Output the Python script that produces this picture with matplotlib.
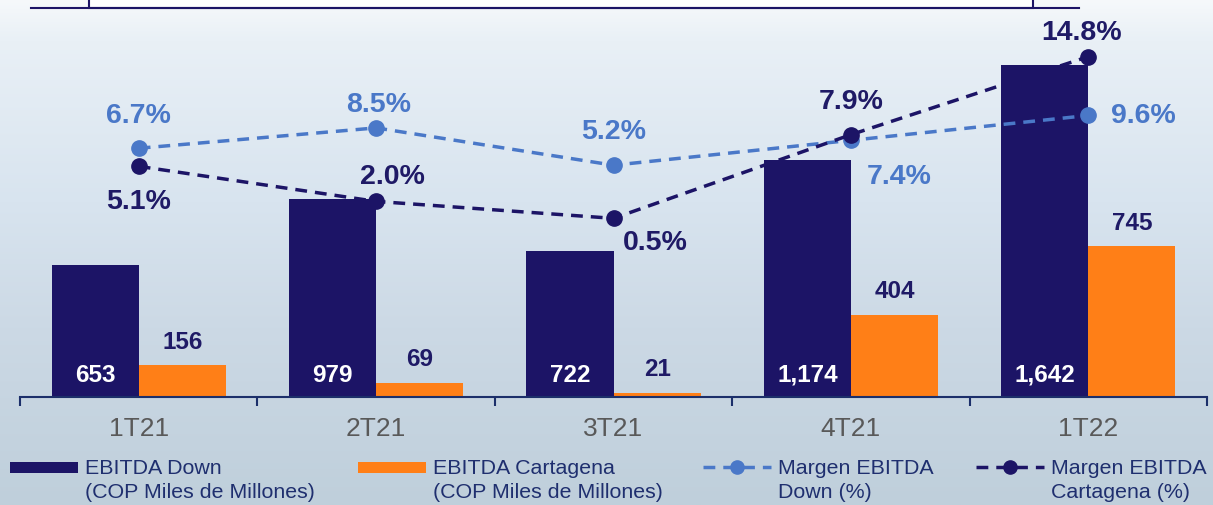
import numpy as np
import matplotlib
matplotlib.use('Agg')
import matplotlib.pyplot as plt
from matplotlib.colors import LinearSegmentedColormap
from matplotlib.lines import Line2D
from matplotlib.patches import Rectangle

plt.rcParams['font.family'] = ['Liberation Sans', 'DejaVu Sans']

quarters = ['1T21', '2T21', '3T21', '4T21', '1T22']
ebitda_down = [653, 979, 722, 1174, 1642]
ebitda_cartagena = [156, 69, 21, 404, 745]
margen_down = [6.7, 8.5, 5.2, 7.4, 9.6]
margen_cartagena = [5.1, 2.0, 0.5, 7.9, 14.8]

legend_labels = ['EBITDA Down\n(COP Miles de Millones)',
                 'EBITDA Cartagena\n(COP Miles de Millones)',
                 'Margen EBITDA\nDown (%)',
                 'Margen EBITDA\nCartagena (%)']

navy = '#1c1466'
orange = '#ff7f17'
light_blue = '#4a78c8'
text_navy = '#1f1a66'
legend_navy = '#1f2f6f'
axis_blue = '#1c2f6a'
grey = '#595959'

W, H = 1213, 506
fig = plt.figure(figsize=(W / 100, H / 100), dpi=100)


def fx(px):
    return px / W


def fy(py):
    # py measured from the top of the picture
    return (H - py) / H


# soft gradient background
bg = fig.add_axes([0, 0, 1, 1], zorder=-10)
cmap = LinearSegmentedColormap.from_list(
    'bg', [(0, '#f6f9fb'), (0.08, '#e9f0f6'), (0.4, '#d8e4ef'),
           (0.65, '#ccd9e5'), (1, '#bfcfdb')])
grad = np.linspace(0, 1, 256).reshape(-1, 1)
bg.imshow(grad, aspect='auto', cmap=cmap, extent=[0, 1, 0, 1], origin='upper')
bg.axis('off')

ax = fig.add_axes([fx(20), fy(398), fx(1187), 398 / H])
ax.patch.set_alpha(0)

x = np.arange(len(quarters))
w = 0.367
ax.bar(x - w / 2, ebitda_down, w, color=navy, zorder=2)
ax.bar(x + w / 2, ebitda_cartagena, w, color=orange, zorder=2)
ax.set_xlim(-0.5, len(quarters) - 0.5)
ax.set_ylim(0, 1968)

for s in ['top', 'left', 'right']:
    ax.spines[s].set_visible(False)
ax.spines['bottom'].set_color(axis_blue)
ax.spines['bottom'].set_linewidth(1.5)
ax.set_yticks([])
ax.set_xticks(np.arange(-0.5, len(quarters), 1))
ax.set_xticklabels([])
ax.tick_params(axis='x', which='major', length=6.5, width=1.5, color=axis_blue)
ax.set_xticks(x, minor=True)
ax.set_xticklabels(quarters, minor=True)
ax.tick_params(axis='x', which='minor', length=0, pad=14, labelsize=19,
               labelcolor=grey)

for xi, v in zip(x, ebitda_down):
    ax.annotate(f'{v:,}', (xi - w / 2, 0), xytext=(0, 16.5),
                textcoords='offset points', ha='center', va='center',
                color='white', fontsize=17.5, fontweight='bold', zorder=3)
for xi, v in zip(x, ebitda_cartagena):
    ax.annotate(f'{v:,}', (xi + w / 2, v), xytext=(0, 17.5),
                textcoords='offset points', ha='center', va='center',
                color=text_navy, fontsize=17.5, fontweight='bold', zorder=3)

ax2 = ax.twinx()
ax2.set_ylim(-15.3, 19.9)
for s in ax2.spines.values():
    s.set_visible(False)
ax2.set_yticks([])

dash = (0, (3.4, 2.3))
ax2.plot(x, margen_down, color=light_blue, ls=dash, lw=2.5, marker='o', ms=11)
ax2.plot(x, margen_cartagena, color=navy, ls=dash, lw=2.5, marker='o', ms=11)

down_offsets = [(0, 24), (2, 17), (0, 24.5), (35, -26), (40, 0)]
cart_offsets = [(0, -25), (12, 18), (30, -17), (0, 24), (-5, 18)]
for xi, v, off in zip(x, margen_down, down_offsets):
    ax2.annotate(f'{v:.1f}%', (xi, v), xytext=off, textcoords='offset points',
                 ha='center', va='center', color=light_blue, fontsize=20.5,
                 fontweight='bold')
for xi, v, off in zip(x, margen_cartagena, cart_offsets):
    ax2.annotate(f'{v:.1f}%', (xi, v), xytext=off, textcoords='offset points',
                 ha='center', va='center', color=text_navy, fontsize=20.5,
                 fontweight='bold')

# box cut off at the top of the slide
fig.add_artist(Rectangle((fx(89), fy(9)), fx(1033 - 89), 30 / H,
                         transform=fig.transFigure, facecolor='white',
                         edgecolor=navy, lw=1.5))
fig.add_artist(Line2D([fx(31), fx(1079)], [fy(9), fy(9)],
                      transform=fig.transFigure, color=navy, lw=1.5))

# legend, four columns along the bottom
legend_x = [10, 358, 703, 976]
hy = 468
for i, (x0, label) in enumerate(zip(legend_x, legend_labels)):
    if i < 2:
        fig.add_artist(Rectangle((fx(x0), fy(hy + 5.5)), fx(68), 11 / H,
                                 transform=fig.transFigure,
                                 color=[navy, orange][i], lw=0))
    else:
        c = [light_blue, navy][i - 2]
        fig.add_artist(Line2D([fx(x0), fx(x0 + 68)], [fy(hy), fy(hy)],
                              transform=fig.transFigure, color=c, ls=dash,
                              lw=2.5))
        fig.add_artist(Line2D([fx(x0 + 34)], [fy(hy)], transform=fig.transFigure,
                              color=c, marker='o', ms=9.5, ls='none'))
    fig.text(fx(x0 + 75), fy(hy - 9), label, ha='left', va='top',
             color=legend_navy, fontsize=15.4, linespacing=1.32)

fig.savefig('out.png', dpi=100)
